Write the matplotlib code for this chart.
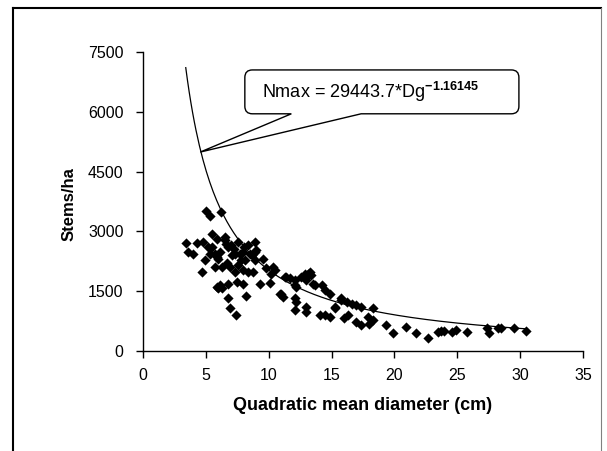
import numpy as np
import matplotlib
matplotlib.use("Agg")
import matplotlib.pyplot as plt
from matplotlib.path import Path
from matplotlib.patches import PathPatch
from matplotlib.lines import Line2D

plt.rcParams['font.family'] = ['Liberation Sans', 'DejaVu Sans']
plt.rcParams['mathtext.fontset'] = 'custom'
plt.rcParams['mathtext.rm'] = 'Liberation Sans'
plt.rcParams['mathtext.bf'] = 'Liberation Sans:bold'

# observed plots: quadratic mean diameter (cm) and stand density (stems/ha)
dg = [3.4, 3.6, 4.0, 4.26, 4.8, 4.66, 4.9, 5.0, 5.3, 5.18, 5.3, 5.45, 5.7, 5.7,
      5.85, 5.85, 6.0, 6.1, 6.1, 6.25, 6.2, 6.5, 6.5, 6.64, 6.77, 6.77, 6.77,
      6.9, 6.9, 7.04, 7.3, 7.3, 7.43, 7.44, 7.56, 7.56, 7.7, 7.83, 7.96, 7.96,
      7.96, 8.1, 8.17, 8.36, 8.36, 8.5, 8.63, 8.75, 8.9, 8.9, 8.9, 9.02, 9.29,
      9.55, 9.82, 10.08, 10.2, 10.34, 10.5, 10.87, 11.1, 11.0, 11.27, 11.4,
      11.67, 12.06, 12.06, 12.06, 12.2, 12.06, 12.2, 12.6, 12.86, 12.86, 13.0,
      13.1, 13.25, 13.4, 13.5, 13.0, 12.94, 13.65, 14.05, 14.2, 14.44, 14.44,
      14.84, 14.84, 15.24, 15.24, 15.77, 15.77, 16.0, 16.2, 16.3, 16.6, 16.96,
      16.96, 17.36, 17.36, 17.9, 18.0, 18.3, 18.3, 19.34, 19.87, 20.93, 21.7,
      22.64, 23.5, 23.7, 23.97, 24.6, 24.9, 25.8, 27.4, 27.5, 28.2, 28.5, 29.5,
      30.5, 5.5, 6.0, 6.3, 7.0, 7.2, 8.0, 5.9, 6.7]
stems = [2710, 2480, 2440, 2710, 2730, 1980, 2280, 3500, 3390, 2610, 2440, 2940,
         2110, 2440, 2820, 1610, 1570, 2480, 1650, 1590, 3480, 2780, 2860, 2690,
         2610, 1690, 1320, 2110, 1070, 2400, 1980, 2440, 900, 1730, 2730, 2150,
         2440, 2280, 2030, 2480, 1690, 2280, 1380, 2650, 1980, 2440, 2400, 1980,
         2730, 2480, 2280, 2530, 1690, 2320, 2070, 1710, 1940, 2110, 2030, 1440,
         1360, 1440, 1860, 1860, 1820, 1650, 1780, 1320, 1230, 1030, 1610, 1860,
         1820, 1940, 1780, 1940, 1980, 1900, 1690, 1110, 980, 1650, 900, 1650,
         1530, 900, 1440, 860, 1110, 1070, 1320, 1280, 820, 1230, 900, 1190, 1150,
         730, 1110, 650, 860, 690, 1070, 780, 650, 440, 610, 440, 320, 480, 510,
         510, 480, 525, 480, 570, 440, 570, 570, 570, 510, 2600, 2300, 2100, 2650,
         2550, 2600, 2350, 2200]

# fitted maximum density line, Nmax = a * Dg^b
coef_a = 29443.7
coef_b = -1.16145
label = r"Nmax = 29443.7*Dg$^{\mathbf{-1.16145}}$"

xticks = [0, 5, 10, 15, 20, 25, 30, 35]
yticks = [0, 1500, 3000, 4500, 6000, 7500]

fig = plt.figure(figsize=(6.07, 4.51), dpi=100)
ax = fig.add_axes([0.2356, 0.2217, 0.7249, 0.6630])

ax.scatter(dg, stems, marker='D', s=27, color='black', linewidths=0, zorder=3)

d_fit = np.linspace(min(dg), max(dg), 200)
ax.plot(d_fit, coef_a * d_fit ** coef_b, color='black', lw=0.9, zorder=2)

ax.set_xlim(0, 35)
ax.set_ylim(0, 7500)
ax.set_xticks(xticks)
ax.set_yticks(yticks)
ax.tick_params(direction='out', length=5, width=1, labelsize=11.5)
ax.tick_params(axis='y', pad=9)
ax.tick_params(axis='x', pad=7)
for side in ['top', 'right']:
    ax.spines[side].set_visible(False)
for side in ['left', 'bottom']:
    ax.spines[side].set_linewidth(1)

ax.set_xlabel('Quadratic mean diameter (cm)', fontsize=13, fontweight='bold', labelpad=10)
ax.set_ylabel('Stems/ha', fontsize=12, fontweight='bold')
ax.yaxis.set_label_coords(-0.15, 0.49)

# callout box with wedge pointing to the curve
x0, x1, yb, yt = 8.1, 29.9, 5950, 7050
rx, ry = 0.6, 190
bx1, bx2 = 11.8, 17.35
tip = (4.55, 4990)
verts = [(x0 + rx, yt), (x1 - rx, yt), (x1, yt), (x1, yt - ry),
         (x1, yb + ry), (x1, yb), (x1 - rx, yb), (bx2, yb), tip, (bx1, yb),
         (x0 + rx, yb), (x0, yb), (x0, yb + ry), (x0, yt - ry), (x0, yt),
         (x0 + rx, yt), (x0 + rx, yt)]
codes = [Path.MOVETO, Path.LINETO, Path.CURVE3, Path.CURVE3,
         Path.LINETO, Path.CURVE3, Path.CURVE3, Path.LINETO, Path.LINETO,
         Path.LINETO, Path.LINETO, Path.CURVE3, Path.CURVE3, Path.LINETO,
         Path.CURVE3, Path.CURVE3, Path.CLOSEPOLY]
ax.add_patch(PathPatch(Path(verts, codes), facecolor='white', edgecolor='black',
                       lw=1, zorder=4, clip_on=False))
ax.text(9.5, 6340, label, fontsize=13, va='baseline', ha='left', zorder=5)

# outer frame of the chart area
fig.add_artist(Line2D([13 / 607, 13 / 607], [0, 1 - 8 / 451], color='black', lw=1.5))
fig.add_artist(Line2D([13 / 607, 601 / 607], [1 - 8 / 451, 1 - 8 / 451], color='black', lw=1.5))
fig.add_artist(Line2D([601 / 607, 601 / 607], [0, 1 - 8 / 451], color='#808080', lw=0.8))

fig.savefig('out.png', dpi=100)
